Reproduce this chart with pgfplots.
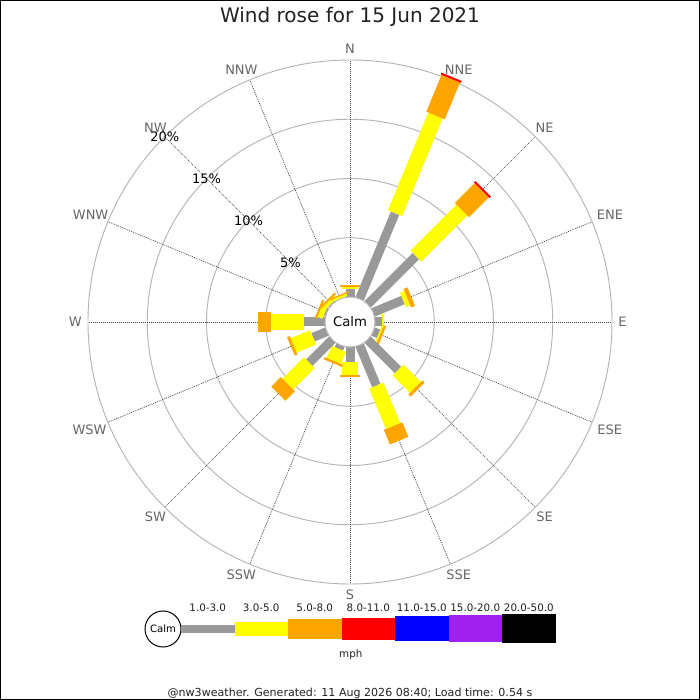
\documentclass[border=0pt]{standalone}
\usepackage{fontspec}
\setmainfont{DejaVu Sans}
\usepackage{pgfplots}
\usepgfplotslibrary{polar}
\usetikzlibrary{calc}
\pgfplotsset{compat=1.18}
\definecolor{wgray}{HTML}{999999}
\definecolor{wyellow}{HTML}{FFFF00}
\definecolor{worange}{HTML}{FFA500}
\definecolor{wred}{HTML}{FF0000}
\definecolor{wblue}{HTML}{0000FF}
\definecolor{wpurple}{HTML}{A020F0}
\definecolor{ringc}{HTML}{B4B4B4}
\definecolor{labc}{HTML}{666666}
\definecolor{titc}{HTML}{222222}
\newcommand{\roff}{2.1097}
% #1 angle (math, deg), #2 gray 1-3, #3 yellow 3-5, #4 orange 5-8, #5 red 8-11 (percent)
\newcommand{\windbar}[5]{%
  \pgfmathsetmacro{\rA}{\roff}%
  \pgfmathsetmacro{\rB}{\rA+#2}%
  \pgfmathsetmacro{\rC}{\rB+#3}%
  \pgfmathsetmacro{\rD}{\rC+#4}%
  \pgfmathsetmacro{\rE}{\rD+#5}%
  \addplot[wgray, line width=6.75pt, data cs=polar, no marks] coordinates {(#1,\rA) (#1,\rB)};
  \addplot[wyellow, line width=11.6pt, data cs=polar, no marks] coordinates {(#1,\rB) (#1,\rC)};
  \addplot[worange, line width=15pt, data cs=polar, no marks] coordinates {(#1,\rC) (#1,\rD)};
  \addplot[wred, line width=16.5pt, data cs=polar, no marks] coordinates {(#1,\rD) (#1,\rE)};
}
\begin{document}
\begin{tikzpicture}[x=0.75pt,y=0.75pt]
\useasboundingbox (0,0) rectangle (700,700);
\fill[white] (0,0) rectangle (700,700);
\begin{axis}[at={(262.5pt,283.5pt)}, anchor=origin,
  x=8.8875pt, y=8.8875pt,
  xmin=-27, xmax=27, ymin=-27, ymax=27,
  hide axis, clip=false]
% rings
\draw[ringc, line width=0.7pt] (axis cs:0,0) circle[radius=7.1097];
\draw[ringc, line width=0.7pt] (axis cs:0,0) circle[radius=12.1097];
\draw[ringc, line width=0.7pt] (axis cs:0,0) circle[radius=17.1097];
\draw[ringc, line width=0.7pt] (axis cs:0,0) circle[radius=22.1097];
% spokes
\pgfplotsinvokeforeach{0,22.5,...,337.5}{
  \addplot[black!75, line width=0.5pt, dash pattern=on 0.75pt off 0.75pt, data cs=polar, no marks]
    coordinates {(#1,0) (#1,22.1097)};
}
% bars: angle, gray, yellow, orange, red
\windbar{90}{0.65}{0.20}{0.20}{0}      % N
\windbar{67.5}{7.83}{8.92}{3.37}{0.17} % NNE
\windbar{45}{5.76}{5.49}{2.37}{0.17}   % NE
\windbar{22.5}{2.73}{0.40}{0.35}{0}    % ENE
\windbar{0}{0.56}{0.20}{0}{0}          % E
\windbar{-22.5}{0.50}{0.15}{0.20}{0}   % ESE
\windbar{-45}{3.63}{2.07}{0.25}{0}     % SE
\windbar{-67.5}{3.70}{3.70}{1.33}{0}   % SSE
\windbar{-90}{1.24}{1.12}{0.20}{0}     % S
\windbar{-112.5}{0.35}{1.10}{0.20}{0}  % SSW
\windbar{-135}{2.74}{2.57}{1.14}{0}    % SW
\windbar{-157.5}{1.27}{1.77}{0.25}{0}  % WSW
\windbar{180}{1.77}{2.81}{1.05}{0}     % W
\windbar{157.5}{0.15}{0.45}{0.17}{0}   % WNW
\windbar{135}{0.10}{0.30}{0.17}{0}     % NW
\windbar{112.5}{0.02}{0.20}{0.12}{0}   % NNW
% calm circle
\draw[gray!55, line width=0.75pt, fill=white] (axis cs:0,0) circle[radius=2.1097];
\node[font=\fontsize{9.9}{12}\selectfont] at (axis cs:0,0) {Calm};
\end{axis}
% title
\node[font=\fontsize{15}{18}\selectfont, text=titc] at (350,683) {Wind rose for 15 Jun 2021};
% direction labels
\foreach \a/\t/\dx in {90/N/0,67.5/NNE/4,45/NE/0,22.5/ENE/0,0/E/0,-22.5/ESE/0,-45/SE/0,-67.5/SSE/4,-90/S/0,-112.5/SSW/-4,-135/SW/0,-157.5/WSW/0,180/W/0,157.5/WNW/0,135/NW/0,112.5/NNW/-4}{
  \pgfmathsetmacro{\anc}{\a+180}
  \node[font=\fontsize{9.75}{12}\selectfont, text=labc, inner sep=0pt, anchor=\anc] at ($(350+\dx,378)+(\a:268)$) {\t};
}
% percent labels
\foreach \r/\t in {84.25/5\%,143.5/10\%,202.75/15\%,262/20\%}{
  \node[font=\fontsize{9.75}{12}\selectfont, text=black, inner sep=0pt] at ($(350,378)+(135:\r)$) {\t};
}
% legend
\draw[black, line width=0.75pt, fill=white] (163,71) circle[radius=18];
\node[font=\fontsize{7.6}{9}\selectfont] at (163,71) {Calm};
\fill[wgray]    (181,67.35)   rectangle (234.5,74.65);
\fill[wyellow]  (234.5,63.65) rectangle (288,78.35);
\fill[worange]  (288,60.85)   rectangle (341.5,81.15);
\fill[wred]     (341.5,59.65) rectangle (395,82.35);
\fill[wblue]    (395,58.5)    rectangle (448.5,83.5);
\fill[wpurple]  (448.5,57.5)  rectangle (502,84.5);
\fill[black]    (502,56.5)    rectangle (555.7,85.5);
\foreach \x/\t in {207.75/1.0-3.0,261.25/3.0-5.0,314.75/5.0-8.0,368.25/8.0-11.0,421.75/11.0-15.0,475.25/15.0-20.0,528.85/20.0-50.0}{
  \node[font=\fontsize{7.75}{9}\selectfont, text=titc] at (\x,92.3) {\t};
}
\node[font=\fontsize{7.75}{9}\selectfont, text=titc] at (350.8,45.7) {mph};
\node[font=\fontsize{8.3}{10}\selectfont, text=titc, anchor=base, inner sep=0pt] at (350,3.6) {@nw3weather. Generated: 11 Aug 2026 08:40; Load time: 0.54 s};
% border
\draw[black, line width=0.75pt] (0.5,0.5) rectangle (699.5,699.5);
\end{tikzpicture}
\end{document}
